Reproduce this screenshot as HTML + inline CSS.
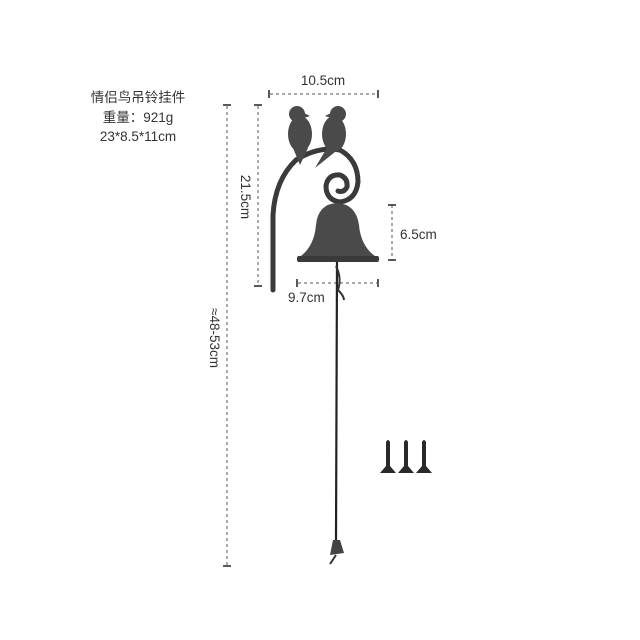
<!DOCTYPE html>
<html><head><meta charset="utf-8"><style>
html,body{margin:0;padding:0;background:#fff;width:640px;height:640px;overflow:hidden}
svg{display:block}
text{font-family:"Liberation Sans","Noto Sans CJK SC",sans-serif;fill:#333}
</style></head><body>
<svg width="640" height="640" viewBox="0 0 640 640" xmlns="http://www.w3.org/2000/svg">
<rect width="640" height="640" fill="#fff"/>
<g font-size="13.5" text-anchor="middle">
<text x="138" y="102">情侣鸟吊铃挂件</text>
<text x="138" y="122">重量：921g</text>
<text x="138" y="141">23*8.5*11cm</text>
</g>
<g stroke="#555" stroke-width="1" stroke-dasharray="3,3" fill="none">
<line x1="227" y1="106" x2="227" y2="566"/>
<line x1="258" y1="106" x2="258" y2="286"/>
<line x1="270" y1="94" x2="377" y2="94"/>
<line x1="392" y1="205" x2="392" y2="260"/>
<line x1="298" y1="283" x2="377" y2="283"/>
</g>
<g stroke="#222" stroke-width="1.5">
<line x1="223" y1="105" x2="231" y2="105"/><line x1="223" y1="566" x2="231" y2="566"/>
<line x1="254" y1="105" x2="262" y2="105"/><line x1="254" y1="286" x2="262" y2="286"/>
<line x1="269" y1="90" x2="269" y2="98"/><line x1="378" y1="90" x2="378" y2="98"/>
<line x1="388" y1="205" x2="396" y2="205"/><line x1="388" y1="260" x2="396" y2="260"/>
<line x1="297" y1="279" x2="297" y2="287"/><line x1="378" y1="279" x2="378" y2="287"/>
</g>
<g font-size="13.5">
<text x="323" y="85" text-anchor="middle">10.5cm</text>
<text x="400" y="239">6.5cm</text>
<text x="288" y="302">9.7cm</text>
<text transform="translate(241,197) rotate(90)" text-anchor="middle">21.5cm</text>
<text transform="translate(210,338) rotate(90)" text-anchor="middle">≈48-53cm</text>
</g>
<!-- rope -->
<path d="M337 262 L336 540" stroke="#222" stroke-width="2.2" fill="none"/>
<path d="M336 266 q6 12 2 24 q6 6 6 10" stroke="#333" stroke-width="2" fill="none"/>
<path d="M330 555 L333 540 L340 540 L344 553 Z" fill="#444"/>
<path d="M336 555 l-6 9" stroke="#333" stroke-width="2"/>
<!-- arm -->
<path d="M273 290 L273 215 Q275 180 296 160 Q318 146 340 150 Q358 160 358 182 Q356 200 340 202 Q326 200 326 186 Q328 174 340 175 Q348 178 347 187 Q344 193 338 191" stroke="#3a3a3a" stroke-width="5" fill="none" stroke-linecap="round"/>
<!-- bell -->
<path d="M337 203 Q318 204 316 225 Q314 248 298 258 L378 258 Q361 248 359 225 Q356 204 337 203 Z" fill="#4a4a4a"/>
<rect x="297" y="256" width="82" height="6" rx="2" fill="#3a3a3a"/>
<!-- birds -->
<g fill="#4a4a4a">
<circle cx="297" cy="114" r="8"/>
<ellipse cx="300" cy="134" rx="12" ry="18"/>
<path d="M293 148 L300 165 L308 148 Z"/>
<path d="M304 113 l6 3 l-6 2z"/>
<circle cx="338" cy="114" r="8"/>
<ellipse cx="334" cy="134" rx="12" ry="18"/>
<path d="M328 146 L315 168 L340 148 Z"/>
<path d="M331 113 l-6 3 l6 2z"/>
</g>
<!-- screws -->
<g fill="#2a2a2a">
<path d="M386 442 Q388 438 390 442 L390 466 L396 473 L380 473 L386 466 Z"/>
<path d="M404 442 Q406 438 408 442 L408 466 L414 473 L398 473 L404 466 Z"/>
<path d="M422 442 Q424 438 426 442 L426 466 L432 473 L416 473 L422 466 Z"/>
</g>
</svg>
</body></html>
